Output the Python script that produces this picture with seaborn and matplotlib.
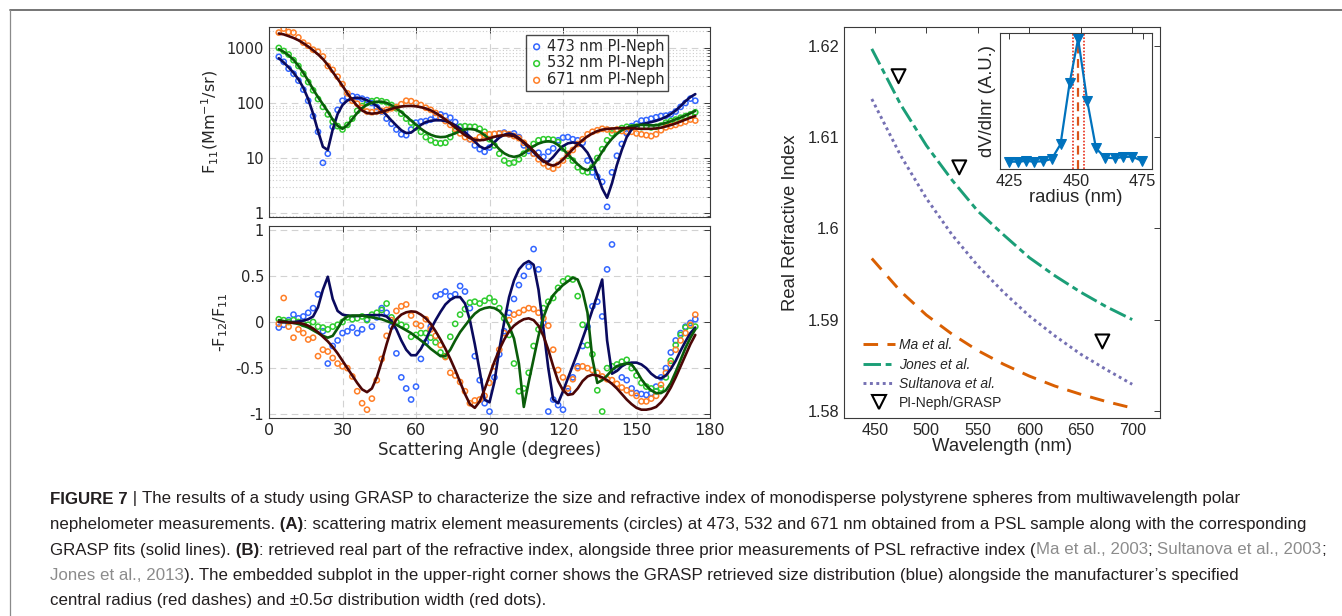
import numpy as np
import matplotlib
matplotlib.use("Agg")
import matplotlib.pyplot as plt
import seaborn as sns
from matplotlib.lines import Line2D
from matplotlib.ticker import LogLocator, NullFormatter, NullLocator

sns.set_style("white")
plt.rcParams["font.family"] = ["DejaVu Sans"]
plt.rcParams["axes.unicode_minus"] = False
plt.rcParams["mathtext.default"] = "regular"

# ---- panel A data (scattering angle grid, degrees) ----
angle = np.arange(4, 175, 2)

# F11 (Mm-1/sr): measured points and GRASP fits
f11_473_pts = [690, 560, 420, 340, 255, 175, 110, 58, 30, 8.2,
               12, 37, 75, 110, 128, 133, 128, 120, 113, 100,
               84, 70, 52, 42, 33, 27, 26, 33, 44, 46,
               47, 50, 57, 62, 58, 54, 45, 37, 30, 22,
               17, 14.5, 13, 15.5, 22, 28, 29, 27, 28, 24,
               17, 13.5, 12, 12.5, 10.5, 13, 15, 21, 23.5, 24,
               22, 21, 19, 9, 5.5, 4.6, 3.7, 1.3, 5.5, 11,
               18, 28, 38, 42, 48, 49, 52, 55, 58, 59,
               62, 70, 85, 100, 120, 110]
f11_532_pts = [1000, 880, 760, 600, 470, 340, 240, 170, 118, 85,
               62, 46, 38, 33, 40, 52, 72, 88, 100, 108,
               112, 108, 103, 92, 80, 64, 52, 44, 36, 30,
               24, 21, 19, 18.5, 19, 24, 31, 37, 38, 37,
               37, 34, 30, 22, 17, 12, 9, 8, 8.3, 9.5,
               12, 15, 18, 21, 22, 22, 21.5, 19.5, 15, 11,
               9, 6.8, 5.8, 5.5, 6.8, 10, 14.5, 21, 28, 32,
               35, 37, 36, 37, 36.5, 38, 36, 37, 39, 44,
               47, 50, 54, 58, 62, 68]
f11_671_pts = [1900, 2250, 1950, 1900, 1550, 1250, 1100, 930, 850, 700,
               470, 400, 300, 220, 150, 110, 97, 82, 70, 68,
               70, 72, 75, 80, 84, 95, 110, 108, 100, 92,
               82, 75, 66, 55, 47, 40, 34, 28, 24, 22,
               21, 24, 26, 27, 27.5, 28, 28, 27, 25, 23,
               19, 15, 12, 9.5, 8, 7, 6.4, 7.5, 9, 12,
               14, 18, 22, 27, 30, 32, 34, 33, 32, 33,
               31, 30, 30, 28, 27, 26, 25, 27, 32, 36,
               38, 40, 43, 46, 50, 48]
f11_473_fit = [650, 545, 445, 355, 270, 190, 118, 64, 31, 16,
               14, 33, 63, 92, 111, 121, 125, 121, 112, 101,
               88, 74, 60, 48, 39, 32, 28.5, 29, 34, 40,
               45, 47.5, 48.5, 48.5, 47, 44, 39.5, 34.5, 29.5, 24.5,
               20, 16.3, 14.8, 16, 19.5, 23.5, 26.5, 28, 26.5, 23,
               19, 15.5, 12.7, 10.3, 8.6, 8.6, 10.5, 13.5, 16.5, 18.5,
               19.2, 18.5, 16, 12.5, 8.5, 5, 2.8, 1.9, 3.5, 7.5,
               14, 24, 33, 38.5, 41, 43, 45, 47.5, 51, 56,
               63, 73, 88, 108, 128, 145]
f11_532_fit = [950, 850, 735, 610, 475, 355, 255, 178, 128, 95,
               70, 50, 38.5, 34, 39.5, 51, 66, 81, 93.5, 101.5,
               105.5, 105.5, 100.5, 91, 79.5, 68.5, 57.5, 48, 40.5, 34,
               29.5, 26.5, 24.7, 24, 24.3, 26, 28.2, 30.8, 33, 33.8,
               32.8, 30, 26, 22, 18, 14.5, 12.2, 11, 10.5, 11,
               12.3, 14.3, 16.5, 18.3, 19.6, 20.2, 19.5, 17.3, 14.5, 11.7,
               9.4, 7.7, 6.5, 6.0, 7, 9.4, 13, 17.5, 22.5, 27.5,
               32, 35.5, 38, 39.5, 40, 39.8, 39.2, 39.3, 41, 43.5,
               46.5, 50.5, 54.5, 59.5, 65, 72]
f11_671_fit = [1830, 1760, 1640, 1520, 1380, 1220, 1060, 905, 765, 630,
               490, 365, 275, 205, 150, 113, 89, 73, 66, 64,
               65.5, 69, 73.5, 78.5, 83, 86.5, 88, 88.5, 87, 84,
               79.5, 73.5, 66, 58, 50, 42.5, 36, 30.5, 26, 23,
               21.5, 21, 21.5, 22.8, 24.3, 25.5, 26, 26, 25, 22.5,
               19.5, 16.5, 13.5, 10.8, 8.9, 7.7, 7.3, 7.9, 9.4, 11.7,
               14.5, 17.7, 21.2, 24.8, 28, 30.8, 32.8, 33.8, 34.3, 34.8,
               35, 35, 34.8, 34.3, 34, 34, 34, 34.5, 35.7, 37.5,
               39.8, 42.5, 46, 50, 54, 58]

# -F12/F11: measured points and GRASP fits
f12_473_pts = [-0.06, -0.03, 0.02, 0.08, 0.04, 0.06, 0.1, 0.15, 0.3, -0.1,
               -0.45, -0.26, -0.2, -0.12, -0.1, -0.06, -0.12, -0.08, 0.03, -0.05,
               0.05, 0.15, 0.1, -0.05, -0.34, -0.6, -0.72, -0.84, -0.7, -0.4,
               -0.22, -0.05, 0.28, 0.3, 0.33, 0.28, 0.3, 0.39, 0.33, 0.15,
               -0.37, -0.63, -0.88, -0.97, -0.6, -0.35, -0.1, 0.1, 0.25, 0.4,
               0.5, 0.6, 0.79, 0.57, -0.01, -0.97, -0.84, -0.9, -0.95, -0.75,
               -0.6, -0.48, -0.26, -0.05, 0.17, 0.22, 0.06, 0.57, 0.84, -0.5,
               -0.6, -0.63, -0.72, -0.77, -0.78, -0.79, -0.77, -0.7, -0.6, -0.5,
               -0.33, -0.2, -0.12, -0.05, -0.01, 0.03]
f12_532_pts = [0.03, 0.02, 0.0, 0.02, 0.0, -0.02, -0.03, 0.0, -0.05, -0.06,
               -0.08, -0.05, -0.03, 0.0, 0.05, 0.03, 0.04, 0.06, 0.02, 0.08,
               0.1, 0.13, 0.2, 0.05, 0.0, -0.03, -0.05, -0.16, -0.14, -0.12,
               -0.12, -0.17, -0.22, -0.33, -0.37, -0.16, -0.02, 0.08, 0.14, 0.21,
               0.22, 0.2, 0.23, 0.26, 0.22, 0.15, 0.04, -0.14, -0.45, -0.75,
               -0.72, -0.55, -0.26, -0.08, 0.15, 0.22, 0.26, 0.37, 0.44, 0.47,
               0.46, 0.28, -0.03, -0.25, -0.35, -0.74, -0.97, -0.5, -0.48, -0.46,
               -0.43, -0.41, -0.5, -0.58, -0.66, -0.7, -0.72, -0.75, -0.72, -0.6,
               -0.42, -0.25, -0.14, -0.06, -0.04, -0.05]
f12_671_pts = [-0.02, 0.26, -0.05, -0.17, -0.08, -0.12, -0.19, -0.17, -0.37, -0.3,
               -0.32, -0.39, -0.45, -0.48, -0.5, -0.59, -0.75, -0.88, -0.95, -0.83,
               -0.63, -0.4, -0.15, 0.02, 0.12, 0.17, 0.19, 0.07, -0.02, -0.04,
               0.03, -0.08, -0.15, -0.25, -0.38, -0.55, -0.58, -0.65, -0.75, -0.88,
               -0.85, -0.84, -0.8, -0.66, -0.48, -0.3, -0.12, 0.02, 0.08, 0.1,
               0.13, 0.15, 0.14, 0.1, 0.04, -0.04, -0.3, -0.52, -0.6, -0.72,
               -0.62, -0.5, -0.48, -0.5, -0.52, -0.55, -0.59, -0.62, -0.63, -0.67,
               -0.71, -0.74, -0.77, -0.8, -0.86, -0.86, -0.83, -0.8, -0.68, -0.55,
               -0.45, -0.3, -0.2, -0.12, -0.03, 0.08]
f12_473_fit = [0.0, 0.0, 0.0, 0.0, 0.005, 0.015, 0.03, 0.06, 0.16, 0.35,
               0.49, 0.25, 0.12, 0.08, 0.07, 0.065, 0.065, 0.068, 0.072, 0.075,
               0.075, 0.075, 0.06, 0.01, -0.08, -0.2, -0.3, -0.36, -0.36, -0.29,
               -0.19, -0.08, 0.02, 0.11, 0.19, 0.24, 0.27, 0.27, 0.2, 0.02,
               -0.24, -0.53, -0.84, -0.87, -0.65, -0.3, 0.0, 0.27, 0.45, 0.57,
               0.63, 0.66, 0.62, 0.35, -0.07, -0.5, -0.84, -0.88, -0.75, -0.61,
               -0.47, -0.33, -0.18, -0.03, 0.13, 0.29, 0.46, -0.2, -0.56, -0.53,
               -0.48, -0.45, -0.44, -0.44, -0.46, -0.5, -0.56, -0.6, -0.61, -0.58,
               -0.51, -0.42, -0.31, -0.21, -0.12, -0.06]
f12_532_fit = [0.02, 0.01, 0.0, -0.01, -0.02, -0.04, -0.06, -0.09, -0.12, -0.15,
               -0.17, -0.15, -0.07, 0.02, 0.06, 0.07, 0.07, 0.07, 0.06, 0.05,
               0.04, 0.03, 0.01, -0.01, -0.03, -0.06, -0.09, -0.12, -0.16, -0.2,
               -0.24, -0.29, -0.33, -0.37, -0.37, -0.3, -0.2, -0.11, -0.04, 0.03,
               0.09, 0.13, 0.15, 0.16, 0.15, 0.12, 0.06, -0.04, -0.18, -0.45,
               -0.92, -0.65, -0.4, -0.15, 0.05, 0.19, 0.29, 0.35, 0.4, 0.44,
               0.48, 0.46, 0.33, 0.1, -0.4, -0.66, -0.63, -0.58, -0.52, -0.48,
               -0.46, -0.45, -0.46, -0.53, -0.62, -0.69, -0.74, -0.77, -0.77, -0.74,
               -0.66, -0.54, -0.41, -0.28, -0.17, -0.08]
f12_671_fit = [0.0, 0.0, -0.005, -0.01, -0.01, -0.02, -0.04, -0.07, -0.11, -0.16,
               -0.21, -0.27, -0.34, -0.42, -0.5, -0.58, -0.66, -0.73, -0.76, -0.72,
               -0.6, -0.43, -0.24, -0.07, 0.03, 0.08, 0.105, 0.115, 0.11, 0.08,
               0.04, -0.02, -0.1, -0.19, -0.29, -0.4, -0.52, -0.65, -0.78, -0.89,
               -0.93, -0.86, -0.73, -0.58, -0.43, -0.3, -0.19, -0.1, -0.04, 0.0,
               0.03, 0.04, 0.02, -0.04, -0.15, -0.3, -0.48, -0.64, -0.74, -0.79,
               -0.78, -0.72, -0.64, -0.59, -0.57, -0.58, -0.6, -0.63, -0.67, -0.72,
               -0.78, -0.84, -0.89, -0.93, -0.95, -0.95, -0.94, -0.92, -0.87, -0.8,
               -0.71, -0.6, -0.48, -0.36, -0.24, -0.14]

series_labels = ["473 nm PI-Neph", "532 nm PI-Neph", "671 nm PI-Neph"]
pt_colors = ["#3366ff", "#2ecc2e", "#ff7f27"]
fit_colors = ["#0a0a5e", "#0a5c0a", "#4c0606"]

# ---- panel B data ----
wavelength = [447, 475, 500, 525, 550, 575, 600, 625, 650, 675, 700]
n_ma = [1.5967, 1.5931, 1.5905, 1.5884, 1.5866, 1.5851, 1.5838, 1.5827, 1.5818, 1.5810, 1.5803]
n_jones = [1.6197, 1.6136, 1.6091, 1.6053, 1.6019, 1.5993, 1.5968, 1.5948, 1.5930, 1.5914, 1.5900]
n_sultanova = [1.6142, 1.6080, 1.6033, 1.5993, 1.5959, 1.5930, 1.5904, 1.5882, 1.5862, 1.5845, 1.5829]
neph_wl = [473, 532, 671]
neph_n = [1.6167, 1.6067, 1.5876]

# inset: retrieved size distribution
radius = [425.0, 428.3, 431.3, 434.3, 437.6, 440.9, 444.2, 447.6,
          450.8, 454.2, 457.5, 460.9, 464.5, 467.8, 471.1, 474.8]
dvdlnr = [0.054, 0.054, 0.059, 0.054, 0.057, 0.074, 0.182, 0.631,
          0.958, 0.501, 0.152, 0.084, 0.079, 0.088, 0.091, 0.059]
r_center = 450.8
r_width = [448.8, 453.1]

W, H = 1342, 616
fig = plt.figure(figsize=(W / 100, H / 100), dpi=100)


def box(x0, y0, x1, y1):
    return [x0 / W, 1 - y1 / H, (x1 - x0) / W, (y1 - y0) / H]


def frame(ax, size, family):
    for s in ax.spines.values():
        s.set_color("#3a3a3a")
        s.set_linewidth(0.8)
    ax.tick_params(which="both", direction="in", top=True, right=True,
                   colors="#3a3a3a", labelcolor="#262626", labelsize=size,
                   labelfontfamily=family)
    ax.tick_params(which="major", length=4, width=0.7)
    ax.tick_params(which="minor", length=2, width=0.6)


ax1 = fig.add_axes(box(269, 27, 710, 217))
ax2 = fig.add_axes(box(269, 226, 710, 418))
ax3 = fig.add_axes(box(844, 27, 1160, 418))
ax4 = fig.add_axes(box(1000, 33, 1152, 169))

# ---- top left: F11 ----
ax1.set_yscale("log")
for vals, col, lab in zip([f11_473_pts, f11_532_pts, f11_671_pts], pt_colors, series_labels):
    sns.scatterplot(x=angle, y=vals, ax=ax1, marker="o", s=14, facecolors="none",
                    edgecolor=col, linewidth=1.1, zorder=2, label=lab)
for vals, col in zip([f11_473_fit, f11_532_fit, f11_671_fit], fit_colors):
    sns.lineplot(x=angle, y=vals, ax=ax1, color=col, linewidth=1.9, zorder=3, legend=False)
ax1.set_xlim(0, 180)
ax1.set_ylim(0.85, 2400)
ax1.set_xticks(range(0, 181, 30))
ax1.set_yticks([1, 10, 100, 1000])
ax1.set_yticklabels(["1", "10", "100", "1000"])
ax1.yaxis.set_minor_locator(LogLocator(base=10, subs=range(2, 10)))
ax1.yaxis.set_minor_formatter(NullFormatter())
ax1.xaxis.set_minor_locator(NullLocator())
frame(ax1, 10.5, "DejaVu Sans")
ax1.tick_params(labelbottom=False)
ax1.grid(True, which="major", ls=(0, (6, 4)), color="#d2d2d2", lw=0.8)
ax1.grid(True, which="minor", axis="y", ls=(0, (1, 2)), color="#cdcdcd", lw=0.8)
ax1.set_axisbelow(True)
ax1.set_ylabel("F$_{11}$(Mm$^{-1}$/sr)", fontsize=11.5, color="#262626", labelpad=4)
handles = ax1.collections[:3]
leg = ax1.legend(handles, series_labels, loc="upper right", bbox_to_anchor=(0.905, 0.958),
                 frameon=True, fancybox=False, edgecolor="#1a1a1a", fontsize=10.5,
                 handletextpad=0.2, borderpad=0.25, labelspacing=0.12, handlelength=1.0,
                 borderaxespad=0.0, markerscale=1.1)
leg.get_frame().set_linewidth(1.0)

# ---- bottom left: -F12/F11 ----
for vals, col in zip([f12_473_pts, f12_532_pts, f12_671_pts], pt_colors):
    sns.scatterplot(x=angle, y=vals, ax=ax2, marker="o", s=14, facecolors="none",
                    edgecolor=col, linewidth=1.1, zorder=2, legend=False)
for vals, col in zip([f12_473_fit, f12_532_fit, f12_671_fit], fit_colors):
    sns.lineplot(x=angle, y=vals, ax=ax2, color=col, linewidth=1.9, zorder=3, legend=False)
ax2.set_xlim(0, 180)
ax2.set_ylim(-1.04, 1.04)
ax2.set_xticks(range(0, 181, 30))
ax2.set_yticks([-1, -0.5, 0, 0.5, 1])
ax2.set_yticklabels(["-1", "-0.5", "0", "0.5", "1"])
frame(ax2, 10.5, "DejaVu Sans")
ax2.tick_params(axis="x", labelsize=11.5)
ax2.grid(True, which="major", ls=(0, (6, 4)), color="#d2d2d2", lw=0.8)
ax2.set_axisbelow(True)
ax2.set_ylabel("-F$_{12}$/F$_{11}$", fontsize=11.5, color="#262626", labelpad=4)
ax2.set_xlabel("Scattering Angle (degrees)", fontsize=12, color="#262626", labelpad=2)

# ---- right: refractive index ----
ref_styles = [("#D95F02", (0, (5, 3.2))), ("#1B9E77", (0, (6, 1.6, 2, 1.6))), ("#7570B3", (0, (1, 1.2)))]
for vals, (col, ls) in zip([n_ma, n_jones, n_sultanova], ref_styles):
    sns.lineplot(x=wavelength, y=vals, ax=ax3, color=col, linestyle=ls, linewidth=2.1, legend=False)
sns.scatterplot(x=neph_wl, y=neph_n, ax=ax3, marker="v", s=100, facecolors="none",
                edgecolor="black", linewidth=1.5, zorder=4, legend=False)
ax3.set_xlim(420, 727)
ax3.set_ylim(1.5792, 1.6221)
ax3.set_xticks([450, 500, 550, 600, 650, 700])
ax3.set_yticks([1.58, 1.59, 1.6, 1.61, 1.62])
ax3.set_yticklabels(["1.58", "1.59", "1.6", "1.61", "1.62"])
frame(ax3, 11.7, "Liberation Sans")
ax3.set_xlabel("Wavelength (nm)", fontsize=13.3, family="Liberation Sans", color="#262626", labelpad=0)
ax3.set_ylabel("Real Refractive Index", fontsize=13.3, family="Liberation Sans", color="#262626", labelpad=6)
leg_handles = [Line2D([], [], color=c, ls=ls, lw=2.1) for c, ls in ref_styles]
leg_handles.append(Line2D([], [], marker="v", ls="none", mfc="none", mec="black", ms=10, mew=1.5))
leg3 = ax3.legend(leg_handles, ["Ma et al.", "Jones et al.", "Sultanova et al.", "PI-Neph/GRASP"],
                  loc="lower left", bbox_to_anchor=(0.02, -0.012), frameon=False,
                  prop={"family": "Liberation Sans", "size": 10}, handlelength=2.3,
                  handletextpad=0.3, labelspacing=0.38)
for t in leg3.get_texts()[:3]:
    t.set_style("italic")

# ---- inset: size distribution ----
ax4.set_facecolor("white")
ax4.axvline(r_center, color="#D95319", ls=(0, (4, 2.5)), lw=1.6, zorder=1)
for r in r_width:
    ax4.axvline(r, color="#E8301C", ls=(0, (1, 1)), lw=1.2, zorder=1)
sns.lineplot(x=radius, y=dvdlnr, ax=ax4, color="#0072BD", linewidth=1.6, marker="v",
             markersize=7, markeredgecolor="#0072BD", zorder=3, legend=False)
ax4.set_xlim(421.5, 478.5)
ax4.set_ylim(0, 1)
ax4.set_xticks([425, 450, 475])
ax4.set_yticks([])
frame(ax4, 11.7, "Liberation Sans")
ax4.set_xlabel("radius (nm)", fontsize=13.3, family="Liberation Sans", color="#262626", labelpad=0)
ax4.set_ylabel("dV/dlnr (A.U.)", fontsize=13.3, family="Liberation Sans", color="#262626", labelpad=3)

# ---- page frame lines ----
fig.add_artist(Line2D([10 / W, 1], [1 - 10 / H] * 2, transform=fig.transFigure, color="#6a6a6a", lw=1.3))
fig.add_artist(Line2D([10 / W] * 2, [1 - 10 / H, 0], transform=fig.transFigure, color="#8a8a8a", lw=0.9))

# ---- caption ----
ink = "#231f20"
grey = "#8c8c8c"
caption = [
    [("FIGURE 7", "bold", ink), (" | ", "normal", ink),
     ("The results of a study using GRASP to characterize the size and refractive index of monodisperse polystyrene spheres from multiwavelength polar", "normal", ink)],
    [("nephelometer measurements.", "normal", ink), (" (A)", "bold", ink),
     (": scattering matrix element measurements (circles) at 473, 532 and 671 nm obtained from a PSL sample along with the corresponding", "normal", ink)],
    [("GRASP fits (solid lines).", "normal", ink), (" (B)", "bold", ink),
     (": retrieved real part of the refractive index, alongside three prior measurements of PSL refractive index (", "normal", ink),
     ("Ma et al., 2003", "normal", grey), ("; ", "normal", ink), ("Sultanova et al., 2003", "normal", grey), (";", "normal", ink)],
    [("Jones et al., 2013", "normal", grey),
     ("). The embedded subplot in the upper-right corner shows the GRASP retrieved size distribution (blue) alongside the manufacturer\u2019s specified", "normal", ink)],
    [("central radius (red dashes) and \u00b10.5\u03c3 distribution width (red dots).", "normal", ink)],
]
cap_y = [499, 524.5, 550, 575.5, 601]
cap_x0 = 50
renderer = fig.canvas.get_renderer()
probe = fig.text(0, 0, "".join(s for s, _, _ in caption[1]), fontsize=10, family="Liberation Sans")
cap_fs = 10 * 1250 / probe.get_window_extent(renderer).width
probe.remove()
for segs, yy in zip(caption, cap_y):
    x = cap_x0
    for txt, weight, col in segs:
        t = fig.text(x / W, 1 - yy / H, txt, fontsize=cap_fs, fontweight=weight, color=col,
                     family="Liberation Sans", va="center", ha="left")
        x += t.get_window_extent(renderer).width

fig.savefig("out.png", dpi=100)
